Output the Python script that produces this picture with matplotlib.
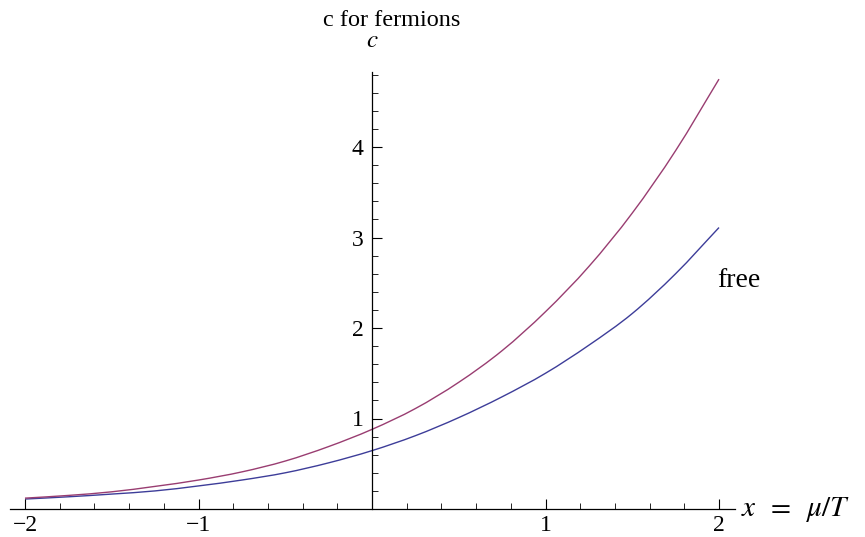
import numpy as np
import matplotlib
matplotlib.use("Agg")
import matplotlib.pyplot as plt
from matplotlib.path import Path
from matplotlib.patches import PathPatch
from matplotlib.ticker import MultipleLocator, FixedLocator

# values
x = [-2.0, -1.75, -1.5, -1.25, -1.0, -0.75, -0.5, -0.25, 0.0,
     0.25, 0.5, 0.75, 1.0, 1.25, 1.5, 1.75, 2.0]
c_interacting = [0.12, 0.15, 0.19, 0.25, 0.32, 0.41, 0.53, 0.69, 0.88,
                 1.11, 1.40, 1.75, 2.18, 2.68, 3.27, 3.96, 4.75]
c_free = [0.11, 0.135, 0.165, 0.20, 0.255, 0.32, 0.40, 0.51, 0.645,
          0.81, 1.01, 1.24, 1.50, 1.81, 2.16, 2.60, 3.11]
x_ticks = [-2, -1, 1, 2]
y_ticks = [1, 2, 3, 4]

plt.rcParams['font.family'] = ['Liberation Serif', 'DejaVu Serif']
plt.rcParams['mathtext.fontset'] = 'stix'


def smooth_path(xs, ys):
    # Bezier segments through the read points (Catmull-Rom tangents)
    p = np.column_stack([xs, ys])
    verts = [p[0]]
    codes = [Path.MOVETO]
    n = len(p)
    for i in range(n - 1):
        t0 = (p[i + 1] - p[i - 1]) / 2 if i > 0 else p[i + 1] - p[i]
        t1 = (p[i + 2] - p[i]) / 2 if i < n - 2 else p[i + 1] - p[i]
        verts += [p[i] + t0 / 3, p[i + 1] - t1 / 3, p[i + 1]]
        codes += [Path.CURVE4] * 3
    return Path(verts, codes)


W, H = 865, 537
fig = plt.figure(figsize=(W / 100, H / 100), dpi=100)
left, right, top, bottom = 10, 735, 72, 509
ax = fig.add_axes([left / W, (H - bottom) / H, (right - left) / W, (bottom - top) / H])

blue = (0.24, 0.24, 0.6)
purple = (0.6, 0.24, 0.442)
for ys, col in [(c_free, blue), (c_interacting, purple)]:
    ax.add_patch(PathPatch(smooth_path(x, ys), facecolor='none', edgecolor=col, lw=1.0))

ax.set_xlim((left - 372) / 173.5, (right - 372) / 173.5)
ax.set_ylim(0, (bottom - top) / 90.5)

for s in ['top', 'right']:
    ax.spines[s].set_visible(False)
ax.spines['left'].set_position(('data', 0))
ax.spines['bottom'].set_position(('data', 0))
for s in ['left', 'bottom']:
    ax.spines[s].set_linewidth(0.9)

ax.xaxis.set_major_locator(FixedLocator(x_ticks))
ax.xaxis.set_minor_locator(MultipleLocator(0.2))
ax.yaxis.set_major_locator(FixedLocator(y_ticks))
ax.yaxis.set_minor_locator(MultipleLocator(0.2))
ax.set_xticklabels(['\u22122', '\u22121', '1', '2'])
ax.set_yticklabels([str(t) for t in y_ticks])
ax.tick_params(which='major', direction='in', length=7, width=0.8, labelsize=17)
ax.tick_params(which='minor', direction='in', length=4.5, width=0.6)
ax.tick_params(axis='x', pad=4)
ax.tick_params(axis='y', pad=6)

ax.text(0, 1.045, '$c$', transform=ax.get_xaxis_transform(), ha='center',
        va='bottom', fontsize=18)
ax.text(1.008, 0, r'$x\;\;=\;\;\mu/T$', transform=ax.get_yaxis_transform(), ha='left',
        va='center', fontsize=21)
ax.text(2.115, 2.53, 'free', ha='center', va='center', fontsize=20)
fig.text(392 / W, 1 - 20 / H, 'c for fermions', ha='center', va='center', fontsize=17.5)

fig.savefig('out.png', dpi=100)
